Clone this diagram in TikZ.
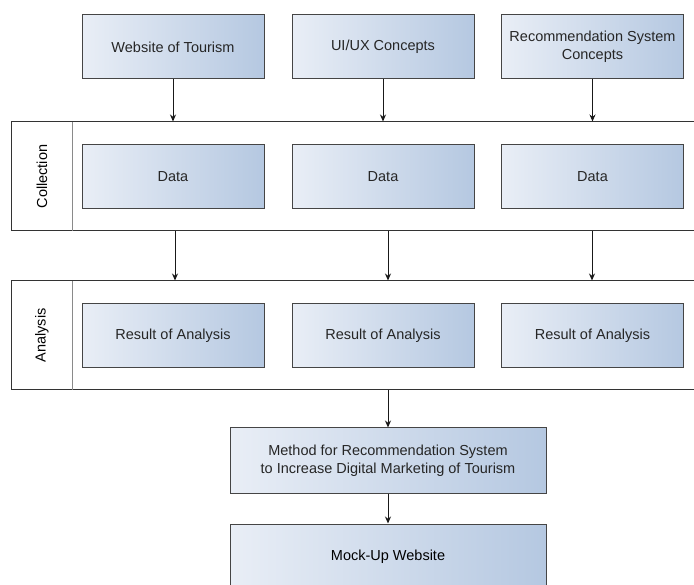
\documentclass[tikz,border=0pt]{standalone}
\usepackage{fontspec}
\setmainfont{Liberation Sans}
\usepackage{tikz}
\usetikzlibrary{positioning}
\usetikzlibrary{arrows.meta}
\definecolor{boxL}{HTML}{E9EEF6}
\definecolor{boxR}{HTML}{B5C8E1}
\definecolor{edge}{HTML}{454545}
\definecolor{lanegray}{HTML}{8A8A8A}
\tikzset{
	stepbox/.style={draw=edge, line width=1pt, left color=boxL, right color=boxR, minimum width=182pt, minimum height=64pt, align=center, text=black!85, inner sep=0pt},
	widebox/.style={stepbox, minimum width=316pt, minimum height=65pt},
	lane/.style={draw=black!80, line width=1pt, minimum width=689pt, minimum height=109pt, inner sep=0pt},
	flow/.style={-{Stealth[length=7pt,width=6pt]}, line width=1pt, black!90},
}

\begin{document}
\begin{tikzpicture}[x=1pt,y=-1pt, font=\fontsize{14.5}{18}\selectfont]
		\useasboundingbox (0,0) rectangle (694,585);
		\clip (0,0) rectangle (694,585);
		% lanes
		\node[lane] (coll) at (355.5,176.5) {};
		\node[lane] (anal) at (355.5,335.5) {};
		\draw[lanegray, line width=1pt] (72,122) -- (72,231);
		\draw[lanegray, line width=1pt] (72,281) -- (72,390);
		\node[rotate=90] (colltxt) at (42,176.5) {Collection};
		\node[rotate=90] (analtxt) at (42,335.5) {Analysis};
		% top row
		\node[stepbox] (web) at (173,47) {Website of Tourism};
		\node[stepbox] (uiux) at (383,47) {UI/UX Concepts};
		\node[stepbox] (rsc) at (592.5,47) {Recommendation System\\Concepts};
		% collection
		\node[stepbox] (data1) at (173,176.5) {Data};
		\node[stepbox] (data2) at (383,176.5) {Data};
		\node[stepbox] (data3) at (592.5,176.5) {Data};
		% analysis
		\node[stepbox] (res1) at (173,335.5) {Result of Analysis};
		\node[stepbox] (res2) at (383,335.5) {Result of Analysis};
		\node[stepbox] (res3) at (592.5,335.5) {Result of Analysis};
		% bottom
		\node[widebox] (method) at (388,460.5) {Method for Recommendation System\\to Increase Digital Marketing of Tourism};
		\node[widebox, minimum height=80pt] (mock) at (388,564) {};
		\node (mocktxt) at (388,557) {Mock-Up Website};
		% arrows
		\draw[flow] (web) -- (web |- coll.north);
		\draw[flow] (uiux) -- (uiux |- coll.north);
		\draw[flow] (rsc) -- (rsc |- coll.north);
		\draw[flow] (coll.south -| 175,0) -- (anal.north -| 175,0);
		\draw[flow] (coll.south -| 388,0) -- (anal.north -| 388,0);
		\draw[flow] (coll.south -| 592,0) -- (anal.north -| 592,0);
		\draw[flow] (anal.south -| method) -- (method);
		\draw[flow] (method) -- (mock);
\end{tikzpicture}
\end{document}
